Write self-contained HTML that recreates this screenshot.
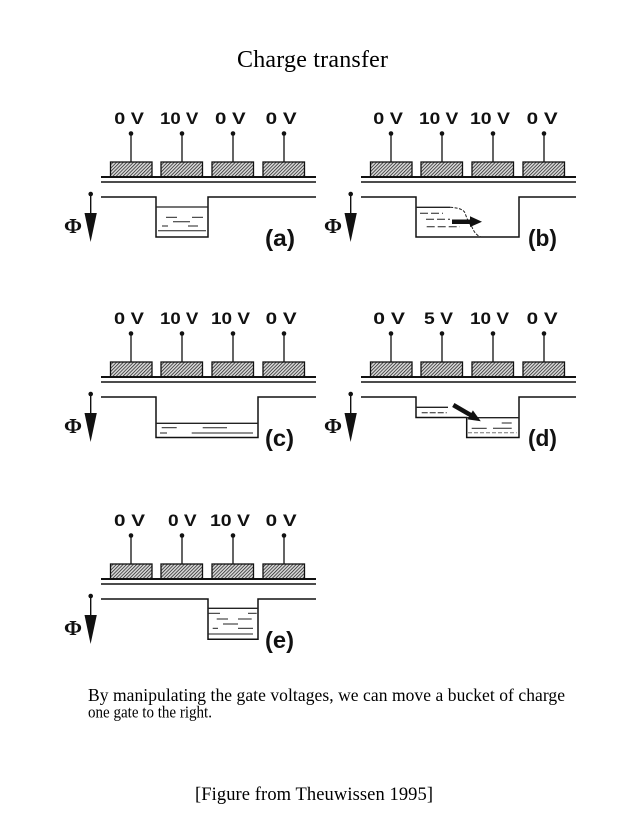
<!DOCTYPE html>
<html>
<head>
<meta charset="utf-8">
<style>
html,body{margin:0;padding:0;background:#fff;}
svg{display:block;}
.lbl{font-family:"Liberation Sans",Arial,sans-serif;font-weight:bold;font-size:17px;fill:#111;}
.pl{font-family:"Liberation Sans",Arial,sans-serif;font-weight:bold;font-size:23px;fill:#111;}
.phi{font-family:"Liberation Serif","DejaVu Serif",serif;font-weight:bold;font-size:21px;fill:#111;}
.ser{font-family:"Liberation Serif","Times New Roman",serif;fill:#000;}
</style>
</head>
<body>
<svg width="637" height="825" viewBox="0 0 637 825" xmlns="http://www.w3.org/2000/svg">
<defs>
<pattern id="hatch" width="2.4" height="2.4" patternUnits="userSpaceOnUse" patternTransform="rotate(45)">
<rect width="2.4" height="2.4" fill="#d8d8d8"/>
<line x1="0" y1="0" x2="0" y2="2.4" stroke="#1a1a1a" stroke-width="1.4"/>
</pattern>
<g id="base">
<g stroke="#111" stroke-width="1.3">
<line x1="131" y1="133.5" x2="131" y2="162"/>
<line x1="182" y1="133.5" x2="182" y2="162"/>
<line x1="233" y1="133.5" x2="233" y2="162"/>
<line x1="284" y1="133.5" x2="284" y2="162"/>
</g>
<g fill="#111">
<circle cx="131" cy="133.5" r="2.3"/>
<circle cx="182" cy="133.5" r="2.3"/>
<circle cx="233" cy="133.5" r="2.3"/>
<circle cx="284" cy="133.5" r="2.3"/>
</g>
<g fill="url(#hatch)" stroke="#111" stroke-width="1.3">
<rect x="110.5" y="162" width="41.5" height="15"/>
<rect x="161" y="162" width="41.5" height="15"/>
<rect x="212" y="162" width="41.5" height="15"/>
<rect x="263" y="162" width="41.5" height="15"/>
</g>
<line x1="101" y1="177" x2="316" y2="177" stroke="#111" stroke-width="2"/>
<line x1="101" y1="182" x2="316" y2="182" stroke="#111" stroke-width="1.5"/>
<circle cx="90.7" cy="194" r="2.3" fill="#111"/>
<line x1="90.7" y1="194" x2="90.7" y2="215" stroke="#111" stroke-width="1.4"/>
<polygon points="84.5,213 96.8,213 90.6,242" fill="#111"/>
</g>
</defs>

<text class="ser" x="237" y="67" font-size="24" textLength="151" lengthAdjust="spacing">Charge transfer</text>

<!-- (a) -->
<g>
<use href="#base"/>
<text class="phi" x="64" y="233" textLength="18" lengthAdjust="spacingAndGlyphs">Φ</text>
<text class="lbl" x="114.3" y="124" textLength="29.7" lengthAdjust="spacingAndGlyphs">0 V</text>
<text class="lbl" x="160" y="124" textLength="38.3" lengthAdjust="spacingAndGlyphs">10 V</text>
<text class="lbl" x="215" y="124" textLength="30.7" lengthAdjust="spacingAndGlyphs">0 V</text>
<text class="lbl" x="265.7" y="124" textLength="31" lengthAdjust="spacingAndGlyphs">0 V</text>
<path d="M101,197 H156 V237 H208 V197 H316" fill="none" stroke="#111" stroke-width="1.5"/>
<g stroke="#222" stroke-width="1">
<line x1="156" y1="207" x2="208" y2="207" stroke-width="1.3"/>
<line x1="166" y1="217.3" x2="177" y2="217.3"/>
<line x1="192" y1="217.3" x2="203" y2="217.3"/>
<line x1="173" y1="221.7" x2="190" y2="221.7"/>
<line x1="162" y1="226" x2="168" y2="226"/>
<line x1="188" y1="226" x2="198" y2="226"/>
<line x1="158" y1="230.7" x2="206" y2="230.7"/>
</g>
<text class="pl" x="265" y="246" textLength="30" lengthAdjust="spacingAndGlyphs">(a)</text>
</g>

<!-- (b) -->
<g transform="translate(260,0)">
<use href="#base"/>
<text class="phi" x="64" y="233" textLength="18" lengthAdjust="spacingAndGlyphs">Φ</text>
<text class="lbl" x="113.3" y="124" textLength="29.7" lengthAdjust="spacingAndGlyphs">0 V</text>
<text class="lbl" x="159" y="124" textLength="39.3" lengthAdjust="spacingAndGlyphs">10 V</text>
<text class="lbl" x="210" y="124" textLength="40" lengthAdjust="spacingAndGlyphs">10 V</text>
<text class="lbl" x="266.7" y="124" textLength="31" lengthAdjust="spacingAndGlyphs">0 V</text>
<path d="M101,197 H156 V237 H259 V197 H316" fill="none" stroke="#111" stroke-width="1.5"/>
<g stroke="#222" stroke-width="1">
<line x1="156" y1="207.3" x2="190" y2="207.3" stroke-width="1.3"/>
<path d="M190,207.3 Q203,208 205,213 Q208,222 212,227 Q215,235 221,237" fill="none" stroke-dasharray="3,1.5"/>
<line x1="160" y1="213.3" x2="183" y2="213.3" stroke-dasharray="8,3"/>
<line x1="166" y1="219.3" x2="190" y2="219.3" stroke-dasharray="8,3"/>
<line x1="166.7" y1="226.7" x2="200" y2="226.7" stroke-dasharray="8,3"/>
</g>
<line x1="192" y1="221.7" x2="211" y2="221.7" stroke="#111" stroke-width="4.5"/>
<polygon points="210,216.3 222,221.7 210,227" fill="#111"/>
<text class="pl" x="268" y="246" textLength="29" lengthAdjust="spacingAndGlyphs">(b)</text>
</g>

<!-- (c) -->
<g transform="translate(0,200)">
<use href="#base"/>
<text class="phi" x="64" y="233" textLength="18" lengthAdjust="spacingAndGlyphs">Φ</text>
<text class="lbl" x="114" y="124" textLength="30" lengthAdjust="spacingAndGlyphs">0 V</text>
<text class="lbl" x="160" y="124" textLength="38.3" lengthAdjust="spacingAndGlyphs">10 V</text>
<text class="lbl" x="211" y="124" textLength="39" lengthAdjust="spacingAndGlyphs">10 V</text>
<text class="lbl" x="265.7" y="124" textLength="31" lengthAdjust="spacingAndGlyphs">0 V</text>
<path d="M101,197 H156 V237.5 H258 V197 H316" fill="none" stroke="#111" stroke-width="1.5"/>
<g stroke="#222" stroke-width="1">
<line x1="156" y1="223.3" x2="258" y2="223.3" stroke-width="1.3"/>
<line x1="161.7" y1="227.7" x2="176.7" y2="227.7"/>
<line x1="202.7" y1="227.7" x2="227" y2="227.7"/>
<line x1="160" y1="233" x2="167" y2="233"/>
<line x1="191.7" y1="233" x2="253" y2="233"/>
</g>
<text class="pl" x="265" y="246" textLength="29" lengthAdjust="spacingAndGlyphs">(c)</text>
</g>

<!-- (d) -->
<g transform="translate(260,200)">
<use href="#base"/>
<text class="phi" x="64" y="233" textLength="18" lengthAdjust="spacingAndGlyphs">Φ</text>
<text class="lbl" x="113.3" y="124" textLength="31.7" lengthAdjust="spacingAndGlyphs">0 V</text>
<text class="lbl" x="164" y="124" textLength="29" lengthAdjust="spacingAndGlyphs">5 V</text>
<text class="lbl" x="210" y="124" textLength="39" lengthAdjust="spacingAndGlyphs">10 V</text>
<text class="lbl" x="266.7" y="124" textLength="31" lengthAdjust="spacingAndGlyphs">0 V</text>
<path d="M101,197 H156 V217.5 H206.7 V237.5 H259 V197 H316" fill="none" stroke="#111" stroke-width="1.5"/>
<g stroke="#222" stroke-width="1">
<line x1="156" y1="207.3" x2="188" y2="207.3" stroke-width="1.3"/>
<line x1="161.7" y1="212.7" x2="186.7" y2="212.7" stroke-dasharray="6,2"/>
<line x1="206.7" y1="217.7" x2="259" y2="217.7" stroke-width="1.3"/>
<line x1="241.7" y1="223" x2="251.7" y2="223"/>
<line x1="211.7" y1="228.3" x2="226.7" y2="228.3"/>
<line x1="233" y1="228.3" x2="251.7" y2="228.3"/>
<line x1="208" y1="232.7" x2="256.7" y2="232.7" stroke-dasharray="4,2" stroke="#777"/>
</g>
<line x1="193.3" y1="205" x2="211.5" y2="215.6" stroke="#111" stroke-width="4.5"/>
<polygon points="212.9,210.4 220.8,221.2 207.6,219.4" fill="#111"/>
<text class="pl" x="268" y="246" textLength="29" lengthAdjust="spacingAndGlyphs">(d)</text>
</g>

<!-- (e) -->
<g transform="translate(0,402)">
<use href="#base"/>
<text class="phi" x="64" y="233" textLength="18" lengthAdjust="spacingAndGlyphs">Φ</text>
<text class="lbl" x="114" y="124" textLength="31" lengthAdjust="spacingAndGlyphs">0 V</text>
<text class="lbl" x="168" y="124" textLength="28.7" lengthAdjust="spacingAndGlyphs">0 V</text>
<text class="lbl" x="210" y="124" textLength="40" lengthAdjust="spacingAndGlyphs">10 V</text>
<text class="lbl" x="265.7" y="124" textLength="31" lengthAdjust="spacingAndGlyphs">0 V</text>
<path d="M101,197 H208 V237.3 H258 V197 H316" fill="none" stroke="#111" stroke-width="1.5"/>
<g stroke="#222" stroke-width="1">
<line x1="208" y1="206.3" x2="258" y2="206.3" stroke-width="1.3"/>
<line x1="208" y1="211.3" x2="220" y2="211.3"/>
<line x1="248" y1="211.3" x2="256.7" y2="211.3"/>
<line x1="216.7" y1="217" x2="228" y2="217"/>
<line x1="238" y1="217" x2="251.7" y2="217"/>
<line x1="223" y1="222" x2="238" y2="222"/>
<line x1="212.7" y1="226.3" x2="218" y2="226.3"/>
<line x1="238" y1="226.3" x2="253" y2="226.3"/>
<line x1="208" y1="232" x2="253" y2="232"/>
</g>
<text class="pl" x="265" y="246" textLength="29" lengthAdjust="spacingAndGlyphs">(e)</text>
</g>

<text class="ser" x="88" y="701" font-size="17.5" textLength="477" lengthAdjust="spacing">By manipulating the gate voltages, we can move a bucket of charge</text>
<text class="ser" x="88" y="717.5" font-size="17" textLength="124" lengthAdjust="spacingAndGlyphs">one gate to the right.</text>
<text class="ser" x="195" y="800" font-size="18.5" textLength="238" lengthAdjust="spacing">[Figure from Theuwissen 1995]</text>
</svg>
</body>
</html>
